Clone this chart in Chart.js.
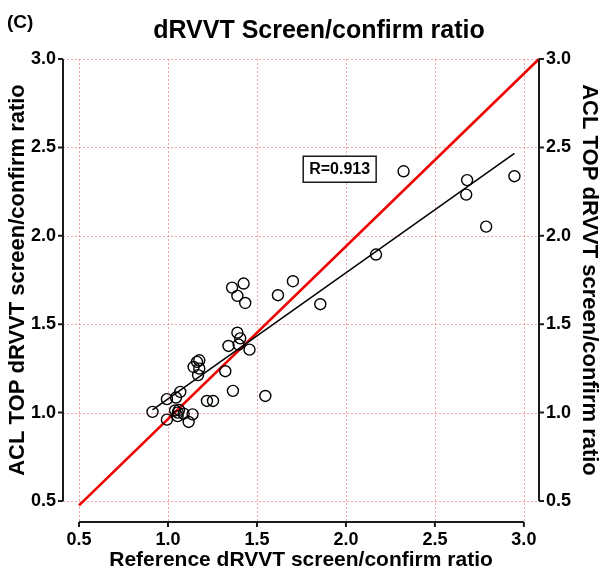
<!DOCTYPE html>
<html>
<head>
<meta charset="utf-8">
<script src="https://cdn.jsdelivr.net/npm/chart.js@4/dist/chart.umd.min.js"></script>
<style>
  html, body { margin: 0; padding: 0; background: #fff; }
  #wrap { width: 604px; height: 574px; }
</style>
</head>
<body>
<div id="wrap"><canvas id="chart" width="604" height="574"></canvas></div>
<script>
// dRVVT screen/confirm ratio: reference method vs ACL TOP
const refRatio = [
    0.913, 0.994, 1.045, 1.069, 0.994, 1.040, 1.055, 1.062, 1.054, 1.088,
    1.138, 1.116, 1.219, 1.253, 1.365, 1.144, 1.163, 1.176, 1.176, 1.169,
    1.322, 1.340, 1.397, 1.406, 1.390, 1.458, 1.360, 1.425, 1.390, 1.434,
    1.547, 1.618, 1.702, 1.856, 2.169, 2.324, 2.681, 2.676, 2.788, 2.947
];
const aclRatio = [
    1.004, 1.076, 1.085, 1.117, 0.960, 1.012, 1.000, 1.015, 0.980, 0.994,
    0.990, 0.947, 1.066, 1.066, 1.123, 1.258, 1.287, 1.296, 1.249, 1.212,
    1.234, 1.377, 1.385, 1.420, 1.452, 1.356, 1.707, 1.730, 1.660, 1.620,
    1.094, 1.664, 1.743, 1.613, 1.894, 2.365, 2.315, 2.233, 2.052, 2.337
];

// regression fit across the data range, and the reference line
const fitX = [0.913, 2.947];
const fitY = [1.016, 2.466];
const refLineX = [0.5, 3.085];
const refLineY = [0.475, 3.0];

const axisTicks = [0.5, 1.0, 1.5, 2.0, 2.5, 3.0];
const rLabel = "R=0.913";

const FONT = "'Liberation Sans', Arial, Helvetica, sans-serif";
const GRID = "rgba(235, 90, 90, 0.55)";
const AXIS = "#1b1b1b";

const toPts = (xs, ys) => xs.map((x, i) => ({ x, y: ys[i] }));

// Prism-like frame: dotted grid, detached bottom axis, left/right axes stop at the end ticks
const framePlugin = {
    id: "frame",
    beforeDatasetsDraw(chart) {
        const { ctx, chartArea: a, scales: { x, y } } = chart;
        const axisY = a.bottom + 21;
        ctx.save();
        ctx.strokeStyle = GRID;
        ctx.lineWidth = 1;
        ctx.setLineDash([2, 2]);
        for (const v of axisTicks) {
            const py = Math.round(y.getPixelForValue(v)) + 0.5;
            ctx.beginPath(); ctx.moveTo(a.left, py); ctx.lineTo(a.right, py); ctx.stroke();
            const px = Math.round(x.getPixelForValue(v)) + 0.5;
            ctx.beginPath(); ctx.moveTo(px, a.top); ctx.lineTo(px, axisY); ctx.stroke();
        }
        ctx.restore();
    },
    afterDatasetsDraw(chart) {
        const { ctx, chartArea: a, scales: { x, y } } = chart;
        const axisY = a.bottom + 21;
        const yTop = y.getPixelForValue(3.0), yBot = y.getPixelForValue(0.5);
        const xL = x.getPixelForValue(0.5), xR = x.getPixelForValue(3.0);
        ctx.save();
        ctx.strokeStyle = AXIS;
        ctx.lineWidth = 2;
        ctx.lineCap = "butt";
        ctx.beginPath();
        ctx.moveTo(a.left, yTop); ctx.lineTo(a.left, yBot);
        ctx.moveTo(a.right, yTop); ctx.lineTo(a.right, yBot);
        ctx.moveTo(xL, axisY); ctx.lineTo(xR, axisY);
        for (const v of axisTicks) {
            const py = y.getPixelForValue(v);
            ctx.moveTo(a.left - 5, py); ctx.lineTo(a.left, py);
            ctx.moveTo(a.right, py); ctx.lineTo(a.right + 5, py);
            const px = x.getPixelForValue(v);
            ctx.moveTo(px, axisY); ctx.lineTo(px, axisY + 5);
        }
        ctx.stroke();

        // correlation box
        const bx = x.getPixelForValue(1.76), by = y.getPixelForValue(2.45);
        ctx.font = "bold 16px " + FONT;
        const w = ctx.measureText(rLabel).width + 12;
        ctx.fillStyle = "#fff";
        ctx.fillRect(bx, by, w, 26);
        ctx.lineWidth = 1.5;
        ctx.strokeRect(bx, by, w, 26);
        ctx.fillStyle = "#000";
        ctx.textBaseline = "middle";
        ctx.textAlign = "center";
        ctx.fillText(rLabel, bx + w / 2, by + 13.5);
        ctx.restore();
    },
    afterDraw(chart) {
        const { ctx } = chart;
        ctx.save();
        ctx.fillStyle = "#000";
        ctx.textBaseline = "middle";
        ctx.textAlign = "center";
        ctx.font = "bold 25px " + FONT;
        ctx.fillText("dRVVT Screen/confirm ratio", 319, 31);
        ctx.textAlign = "left";
        ctx.font = "bold 19px " + FONT;
        ctx.fillText("(C)", 7, 23);
        ctx.restore();
    }
};

const tickFmt = v => Number(v).toFixed(1);
const tickFont = { family: FONT, size: 18, weight: "bold" };
const titleFont = { family: FONT, size: 21, weight: "bold" };
const sideTitleFont = { family: FONT, size: 22, weight: "bold" };
const noGrid = { display: false, drawTicks: false };

new Chart(document.getElementById("chart"), {
    type: "scatter",
    data: {
        datasets: [
            {
                label: "Reference line",
                type: "line",
                data: toPts(refLineX, refLineY),
                borderColor: "#ee0000",
                borderWidth: 2.6,
                pointRadius: 0,
                clip: false,
                order: 2
            },
            {
                label: "Fit",
                type: "line",
                data: toPts(fitX, fitY),
                borderColor: "#000",
                borderWidth: 1.5,
                pointRadius: 0,
                order: 1
            },
            {
                label: "Samples",
                data: toPts(refRatio, aclRatio),
                pointRadius: 5.5,
                pointBorderWidth: 1.4,
                pointBorderColor: "#000",
                pointBackgroundColor: "rgba(0,0,0,0)",
                order: 0
            }
        ]
    },
    options: {
        responsive: false,
        animation: false,
        devicePixelRatio: 1,
        layout: { padding: { top: 59, left: 0, right: 0, bottom: 0 } },
        plugins: { legend: { display: false }, tooltip: { enabled: false } },
        scales: {
            x: {
                type: "linear",
                min: 0.41,
                max: 3.085,
                afterBuildTicks: s => { s.ticks = axisTicks.map(v => ({ value: v })); },
                afterFit: s => { s.height = 73; },
                grid: noGrid,
                border: { display: false },
                ticks: { color: "#000", font: tickFont, padding: 28, callback: tickFmt, maxRotation: 0, autoSkip: false },
                title: { display: true, text: "Reference dRVVT screen/confirm ratio", color: "#000", font: titleFont, padding: { top: 0, bottom: 1 } }
            },
            y: {
                type: "linear",
                position: "left",
                min: 0.5,
                max: 3.0,
                afterBuildTicks: s => { s.ticks = axisTicks.map(v => ({ value: v })); },
                afterFit: s => { s.width = 63; },
                grid: noGrid,
                border: { display: false },
                ticks: { color: "#000", font: tickFont, padding: 7, callback: tickFmt },
                title: { display: true, text: "ACL TOP dRVVT screen/confirm ratio", color: "#000", font: sideTitleFont, padding: { top: 5, bottom: 0 } }
            },
            y2: {
                type: "linear",
                position: "right",
                min: 0.5,
                max: 3.0,
                afterBuildTicks: s => { s.ticks = axisTicks.map(v => ({ value: v })); },
                afterFit: s => { s.width = 65; },
                grid: noGrid,
                border: { display: false },
                ticks: { color: "#000", font: tickFont, padding: 7, callback: tickFmt },
                title: { display: true, text: "ACL TOP dRVVT screen/confirm ratio", color: "#000", font: sideTitleFont, padding: { top: 2, bottom: 0 } }
            }
        }
    },
    plugins: [framePlugin]
});
</script>
</body>
</html>
